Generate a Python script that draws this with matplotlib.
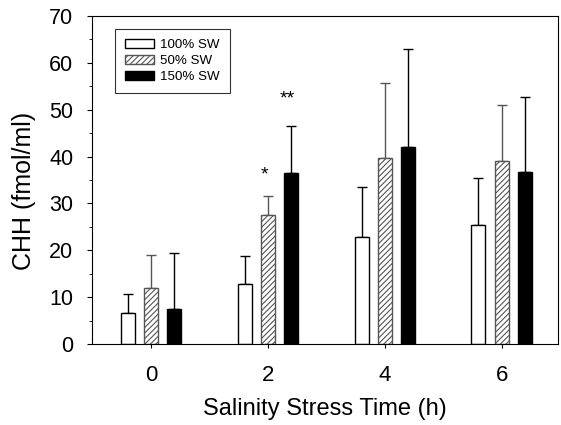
import matplotlib
matplotlib.use("Agg")
import matplotlib.pyplot as plt
import numpy as np
from matplotlib.ticker import MultipleLocator

plt.rcParams['font.family'] = ['Liberation Sans', 'DejaVu Sans']
plt.rcParams['hatch.linewidth'] = 0.8

times = [0, 2, 4, 6]
series_names = ["100% SW", "50% SW", "150% SW"]
means_100 = [6.7, 12.8, 22.8, 25.5]
err_100 = [4.0, 6.0, 10.8, 9.9]
means_50 = [11.9, 27.5, 39.8, 39.1]
err_50 = [7.1, 4.0, 15.8, 12.0]
means_150 = [7.5, 36.6, 42.0, 36.8]
err_150 = [12.0, 10.0, 21.0, 16.0]
stars = {("50% SW", 2): "*", ("150% SW", 2): "**"}
star_gap = {"*": 4.5, "**": 5.7}

fig = plt.figure(figsize=(5.61, 4.25), dpi=100)
ax = fig.add_axes([92/561, 1-344/425, (558-92)/561, (344-16)/425])

x = np.array(times, dtype=float)
width = 0.24
offset = 0.40
styles = [
    dict(facecolor="white", edgecolor="black", hatch=None, ecolor="black"),
    dict(facecolor="white", edgecolor="#555555", hatch="//////", ecolor="#555555"),
    dict(facecolor="black", edgecolor="black", hatch=None, ecolor="black"),
]
all_means = [means_100, means_50, means_150]
all_errs = [err_100, err_50, err_150]
for i, (name, m, e, st) in enumerate(zip(series_names, all_means, all_errs, styles)):
    xs = x + (i - 1) * offset
    ax.bar(xs, m, width=width, facecolor=st["facecolor"], edgecolor=st["edgecolor"],
           hatch=st["hatch"], linewidth=1.0, label=name, zorder=2)
    ax.errorbar(xs, m, yerr=[np.zeros(len(e)), e], fmt="none", ecolor=st["ecolor"],
                elinewidth=1.0, capsize=3.8, capthick=1.0, zorder=1)
    for j, t in enumerate(times):
        s = stars.get((name, t))
        if s:
            ax.text(xs[j] - 0.065, m[j] + e[j] + star_gap[s], s, ha="center",
                    va="center", fontsize=14)

ax.set_xlim(-1.01, 6.96)
ax.set_ylim(0, 70)
ax.set_xticks(times)
ax.set_xticklabels([str(t) for t in times])
ax.yaxis.set_major_locator(MultipleLocator(10))
ax.yaxis.set_minor_locator(MultipleLocator(5))
ax.tick_params(axis="both", which="both", direction="out")
ax.tick_params(axis="y", which="major", length=3.5, pad=10, labelsize=15.5)
ax.tick_params(axis="y", which="minor", length=2)
ax.tick_params(axis="x", which="major", length=3, pad=12, labelsize=16)
ax.set_xlabel("Salinity Stress Time (h)", fontsize=17)
ax.xaxis.set_label_coords(0.5, (344-398)/328)
ax.set_ylabel("CHH (fmol/ml)", fontsize=18)
ax.yaxis.set_label_coords((36-92)/466, (344-191)/328)

leg = ax.legend(loc="upper left", bbox_to_anchor=(0.049, 0.960), borderaxespad=0,
                fontsize=9.6, frameon=True, fancybox=False, edgecolor="black",
                handlelength=2.2, handleheight=0.6, handletextpad=0.45,
                borderpad=0.75, labelspacing=0.3)
leg.get_frame().set_linewidth(0.8)

fig.savefig("out.png", dpi=100)
